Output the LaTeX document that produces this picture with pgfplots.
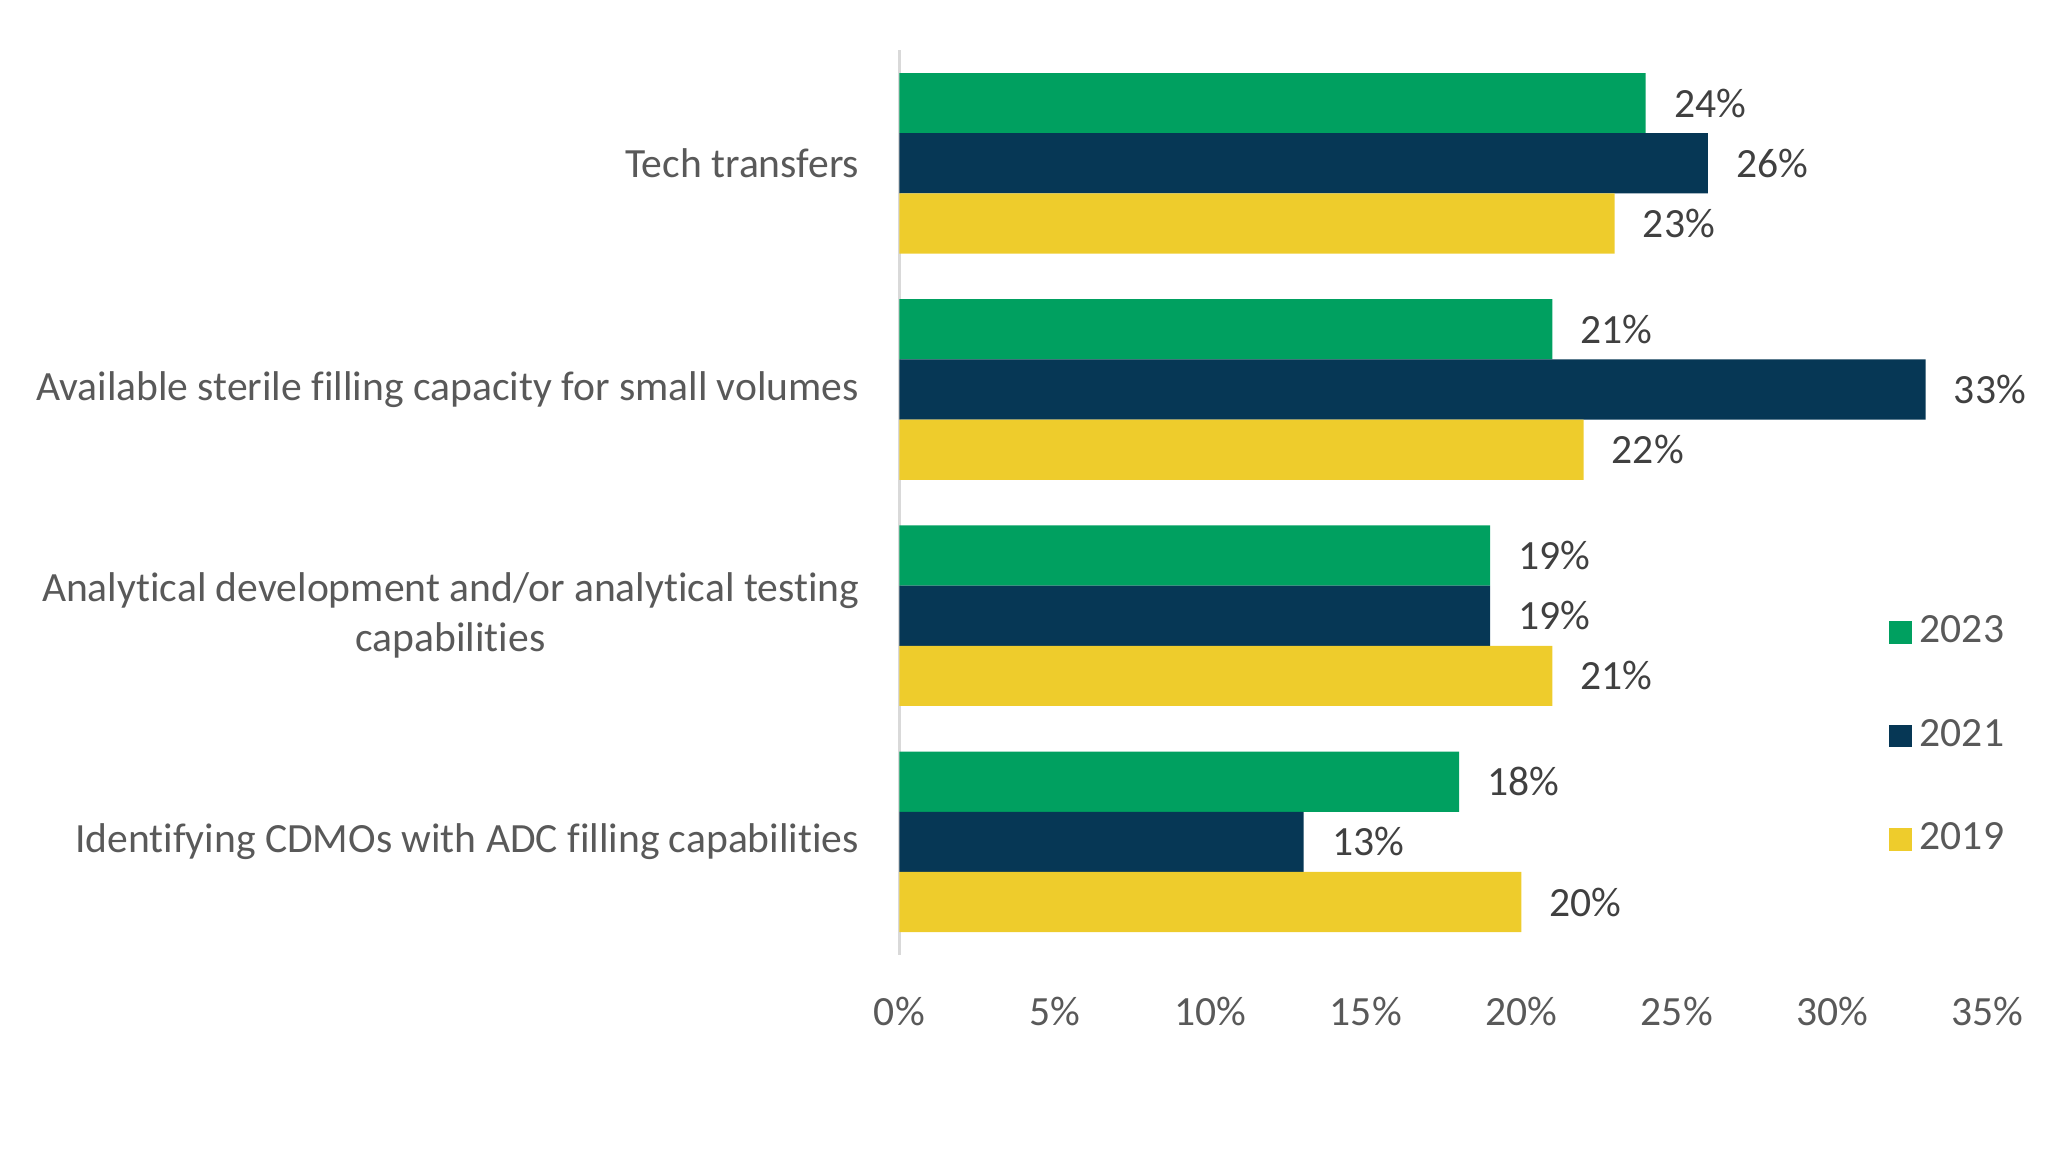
\documentclass[border=0pt]{standalone}
\usepackage{pgfplots}
\pgfplotsset{compat=1.18}
\usepackage{fontspec}
\setmainfont{Carlito}[Ligatures=NoCommon]
\definecolor{cgreen}{HTML}{00A060}
\definecolor{cnavy}{HTML}{063755}
\definecolor{cyellow}{HTML}{EECC2C}
\definecolor{ctext}{HTML}{595959}
\definecolor{clabel}{HTML}{404040}
\definecolor{caxis}{HTML}{D9D9D9}
\begin{document}
\fontsize{10.85}{13}\selectfont
\begin{tikzpicture}
\path[use as bounding box] (0,0) rectangle (535pt,302.4pt);
\begin{axis}[
  at={(234.6pt,53.3pt)}, anchor=south west,
  scale only axis, width=283.9pt, height=236pt,
  xbar, bar width=15.7pt,
  xmin=0, xmax=35, ymin=-0.5, ymax=3.5,
  clip=false,
  axis lines*=left,
  x axis line style={draw=none},
  y axis line style={draw=caxis, line width=0.8pt},
  major tick length=0pt,
  xtick={0,5,10,15,20,25,30,35},
  xticklabels={0\%,5\%,10\%,15\%,20\%,25\%,30\%,35\%},
  xticklabel style={font=\fontsize{10.85}{13}\selectfont, text=ctext, anchor=center, inner sep=0pt, yshift=-14.8pt},
  ytick={0,1,2,3},
  yticklabels={Identifying CDMOs with ADC filling capabilities,
    {Analytical development and/or analytical testing\\capabilities},
    Available sterile filling capacity for small volumes,
    Tech transfers},
  yticklabel style={font=\fontsize{10.85}{13}\selectfont, text=ctext, align=center, anchor=east, inner sep=0pt, xshift=-10.3pt},
  nodes near coords={\pgfmathprintnumber[assume math mode=true]{\pgfplotspointmeta}\%},
  point meta=x,
  every node near coord/.append style={font=\fontsize{10.85}{13}\selectfont, text=clabel, anchor=west, inner sep=0pt, xshift=7.2pt},
  legend cell align=left,
  legend style={draw=none, fill=none, at={(0.909,0.384)}, anchor=north west,
    font=\fontsize{10.85}{13}\selectfont, text=ctext, row sep=14.3pt, inner sep=0pt,
    /tikz/every even column/.append style={column sep=3pt}},
  legend image code/.code={\fill (0pt,-2.95pt) rectangle (5.9pt,2.95pt);},
]
\addplot[draw=none, fill=cgreen, bar shift=15.7pt] coordinates {(18,0) (19,1) (21,2) (24,3)};
\addplot[draw=none, fill=cnavy, bar shift=0pt] coordinates {(13,0) (19,1) (33,2) (26,3)};
\addplot[draw=none, fill=cyellow, bar shift=-15.7pt] coordinates {(20,0) (21,1) (22,2) (23,3)};
\legend{2023,2021,2019}
\end{axis}
\end{tikzpicture}
\end{document}
